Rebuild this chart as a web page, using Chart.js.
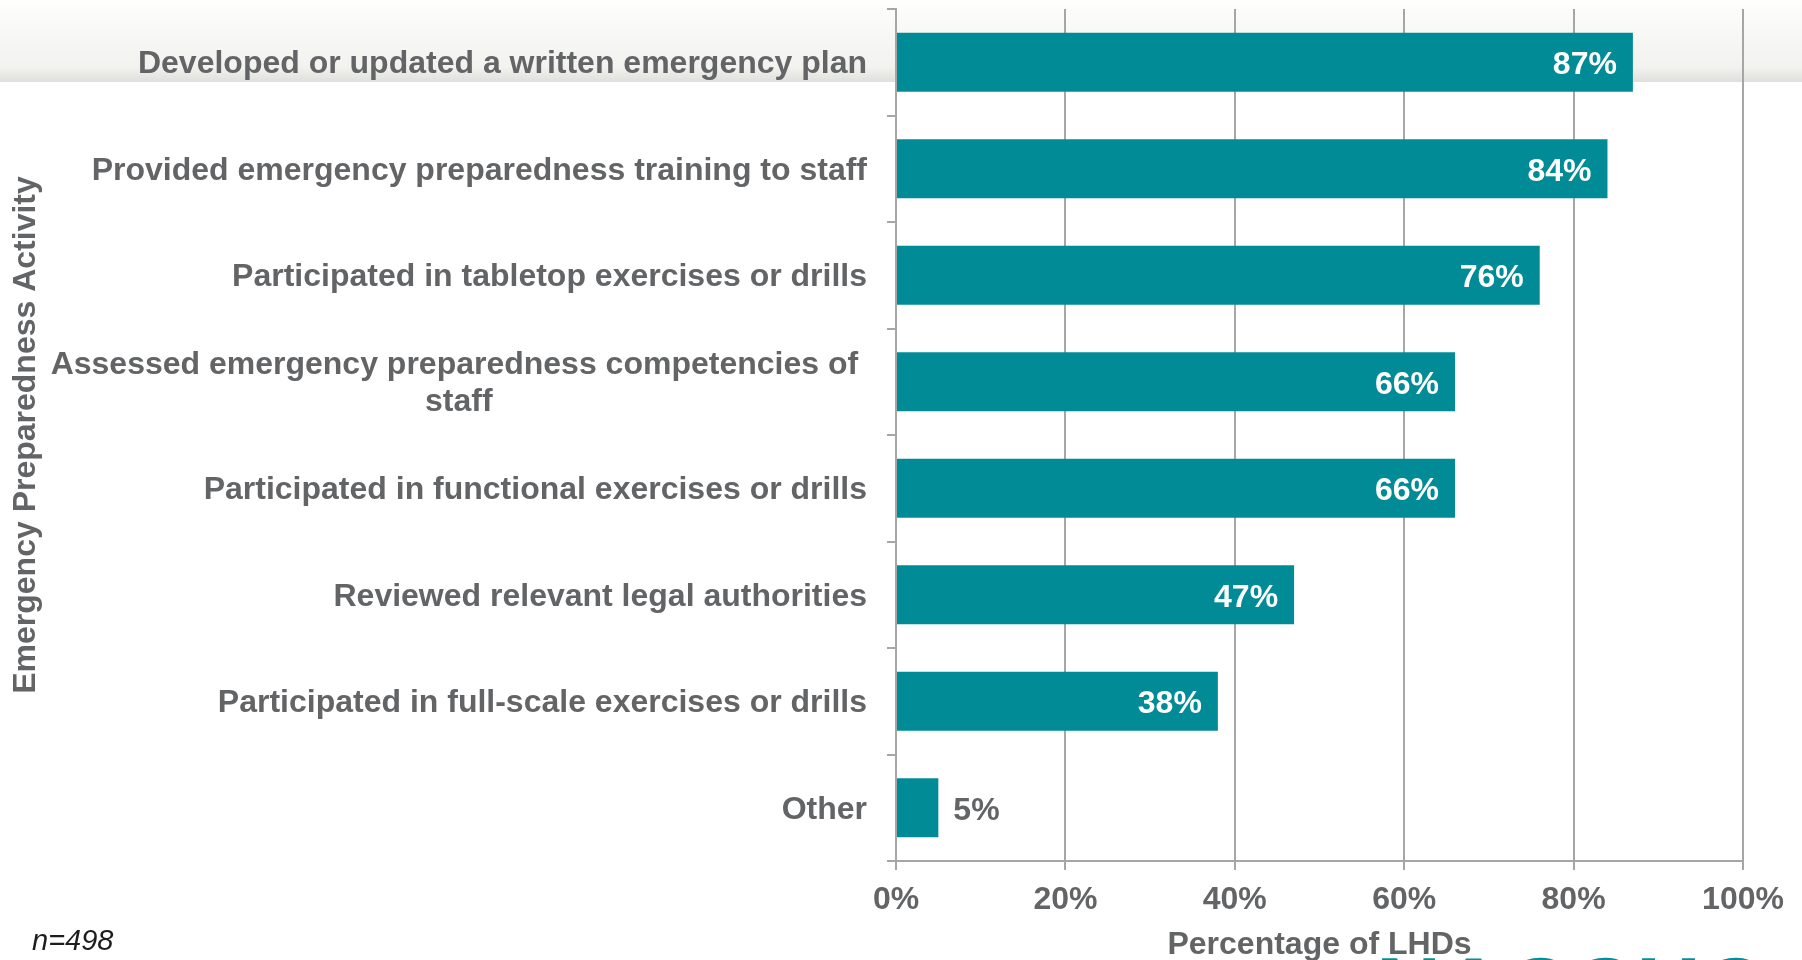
<!DOCTYPE html>
<html>
<head>
<meta charset="utf-8">
<title>Emergency Preparedness Activities</title>
<script src="https://cdn.jsdelivr.net/npm/chart.js@4.4.1/dist/chart.umd.min.js"></script>
<style>
  html, body { margin: 0; padding: 0; background: #fff; }
  #wrap { position: relative; width: 1802px; height: 960px; overflow: hidden; }
</style>
</head>
<body>
<div id="wrap"><canvas id="prepChart"></canvas></div>
<script>
// ===== Data =====
const activities = [
  'Developed or updated a written emergency plan',
  'Provided emergency preparedness training to staff',
  'Participated in tabletop exercises or drills',
  ['Assessed emergency preparedness competencies of ', 'staff'],
  'Participated in functional exercises or drills',
  'Reviewed relevant legal authorities',
  'Participated in full-scale exercises or drills',
  'Other'
];
const percentLHDs = [87, 84, 76, 66, 66, 47, 38, 5];
const pctTicks = [0, 20, 40, 60, 80, 100];
const sampleNote = 'n=498';
const logoText = 'NACCHO';

// ===== Styles =====
const FONT = '"Liberation Sans", Arial, sans-serif';
const TEAL = '#008b96';
const GREY_TEXT = '#636466';
const GRID = '#a6a6a6';

Chart.defaults.font.family = FONT;

// light slide banner across the top
const topBand = {
  id: 'topBand',
  beforeDraw(chart) {
    const ctx = chart.ctx;
    const g = ctx.createLinearGradient(0, 0, 0, 82);
    g.addColorStop(0, '#fefefd');
    g.addColorStop(0.3, '#f9f9f7');
    g.addColorStop(0.82, '#f2f2ef');
    g.addColorStop(1, '#dfdfdb');
    ctx.save();
    ctx.fillStyle = g;
    ctx.fillRect(0, 0, chart.width, 82);
    ctx.restore();
  }
};

// category labels: block right-aligned, lines centred within the block
const activityLabels = {
  id: 'activityLabels',
  afterDraw(chart) {
    const ctx = chart.ctx;
    const y = chart.scales.y;
    const right = y.right - 29;
    const lh = 37;
    ctx.save();
    ctx.font = 'bold 32px ' + FONT;
    ctx.fillStyle = GREY_TEXT;
    ctx.textBaseline = 'middle';
    ctx.textAlign = 'center';
    activities.forEach((lab, i) => {
      const lines = Array.isArray(lab) ? lab : [lab];
      const widest = Math.max(...lines.map(l => ctx.measureText(l).width));
      const cx = right - widest / 2;
      const cy = y.getPixelForTick(i) + 2 - (lines.length - 1) * lh / 2;
      lines.forEach((l, k) => ctx.fillText(l, cx, cy + k * lh));
    });
    ctx.restore();
  }
};

// value labels on the bars
const valueLabels = {
  id: 'valueLabels',
  afterDatasetsDraw(chart) {
    const ctx = chart.ctx;
    const meta = chart.getDatasetMeta(0);
    ctx.save();
    ctx.font = 'bold 32px ' + FONT;
    ctx.textBaseline = 'middle';
    meta.data.forEach((bar, i) => {
      const v = percentLHDs[i];
      const txt = v + '%';
      if (v >= 10) {
        ctx.fillStyle = '#ffffff';
        ctx.textAlign = 'right';
        ctx.fillText(txt, bar.x - 16, bar.y + 3);
      } else {
        ctx.fillStyle = GREY_TEXT;
        ctx.textAlign = 'left';
        ctx.fillText(txt, bar.x + 15, bar.y + 3);
      }
    });
    ctx.restore();
  }
};

// sample size note and logo at the foot of the slide
const footer = {
  id: 'footer',
  afterDraw(chart) {
    const ctx = chart.ctx;
    ctx.save();
    ctx.font = 'italic 29px ' + FONT;
    ctx.fillStyle = '#1d1d1d';
    ctx.textAlign = 'left';
    ctx.textBaseline = 'middle';
    ctx.fillText(sampleNote, 32, 942);
    ctx.font = 'bold 90px ' + FONT;
    ctx.fillStyle = '#0b8d97';
    ctx.textBaseline = 'alphabetic';
    ctx.fillText(logoText, 1376, 1021);
    ctx.restore();
  }
};

const ctx = document.getElementById('prepChart').getContext('2d');

new Chart(ctx, {
  type: 'bar',
  data: {
    labels: activities,
    datasets: [{
      data: percentLHDs,
      backgroundColor: TEAL,
      borderWidth: 0,
      categoryPercentage: 1,
      barPercentage: 0.555
    }]
  },
  options: {
    indexAxis: 'y',
    responsive: true,
    maintainAspectRatio: false,
    animation: false,
    layout: { padding: { top: 9, right: 59, bottom: 0, left: 0 } },
    plugins: {
      legend: { display: false },
      tooltip: { enabled: false }
    },
    scales: {
      x: {
        min: 0,
        max: 100,
        afterBuildTicks: s => { s.ticks = pctTicks.map(v => ({ value: v })); },
        afterFit: s => { s.height = 99; },
        grid: { color: GRID, lineWidth: 2, tickLength: 9 },
        border: { color: GRID, width: 2 },
        ticks: {
          padding: 11,
          color: GREY_TEXT,
          font: { size: 32, weight: 'bold' },
          callback: v => v + '%'
        },
        title: {
          display: true,
          text: 'Percentage of LHDs',
          color: GREY_TEXT,
          font: { size: 32, weight: 'bold', lineHeight: 0.92 },
          padding: { top: 0, bottom: 0 }
        }
      },
      y: {
        afterFit: s => { s.width = 896; },
        grid: { drawOnChartArea: false, offset: true, color: GRID, lineWidth: 2, tickLength: 9 },
        border: { color: GRID, width: 2 },
        ticks: { display: false },
        title: {
          display: true,
          text: 'Emergency Preparedness Activity',
          color: GREY_TEXT,
          font: { size: 32, weight: 'bold' },
          padding: { top: 7, bottom: 0 }
        }
      }
    }
  },
  plugins: [topBand, activityLabels, valueLabels, footer]
});
</script>
</body>
</html>
